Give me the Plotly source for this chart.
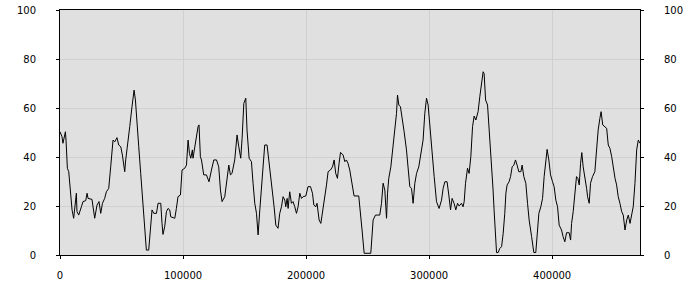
import plotly.graph_objects as go

x_vals = [0, 1600, 2400, 3300, 4400, 4900, 6000, 7100, 8100, 9800, 11100, 12500, 13300, 13800,
          15200, 17400, 18700, 20900, 22000, 22800, 26000, 28200, 30100, 31700, 33100, 34500,
          36300, 37700, 39600, 41200, 43100, 44500, 46300, 47700, 49400, 50700, 52000, 52600,
          53400, 54800, 56700, 58500, 60200, 61300, 62100, 64000, 65600, 67500, 68900, 70200,
          72100, 73500, 74800, 76200, 78400, 79700, 81900, 82900, 83700, 85100, 86500, 87800,
          89200, 90000, 93300, 94600, 95900, 97900, 99200, 101400, 102800, 104100, 105200,
          106300, 107600, 108100, 109500, 110900, 112200, 113000, 114100, 115000, 116800,
          119000, 121100, 123100, 125000, 127200, 129000, 130400, 131700, 133900, 135300,
          137200, 138500, 139800, 142000, 143900, 145300, 146900, 148000, 149400, 151000,
          152000, 153700, 155600, 156900, 158300, 159700, 161000, 162400, 163700, 165000,
          166400, 168300, 169700, 171100, 172700, 174000, 175400, 177200, 178600, 180000,
          181300, 182700, 183500, 184600, 185400, 186700, 188100, 189400, 190800, 192200,
          193500, 194900, 196300, 197600, 199800, 201600, 203600, 205200, 206300, 207900,
          208900, 210600, 212000, 213800, 215200, 216600, 217900, 219800, 221500, 222800,
          224100, 225500, 226800, 228000, 230100, 231500, 232800, 234100, 235500, 237400,
          239000, 242800, 244500, 245500, 247200, 252600, 254500, 256400, 259900, 261300,
          262600, 264000, 264800, 265400, 266200, 267200, 268900, 270700, 272100, 273500,
          274300, 275400, 276700, 278000, 279700, 281600, 282900, 284300, 285700, 287000,
          288400, 289800, 291600, 293300, 295100, 296500, 297900, 299200, 300600, 302400,
          304100, 306000, 308100, 310100, 311400, 312800, 314600, 316000, 317400, 318700,
          320300, 321700, 323100, 324400, 326300, 327600, 328500, 329600, 331200, 332500,
          333900, 335300, 336600, 338000, 339800, 341200, 342600, 343900, 344700, 345900,
          347500, 348800, 350700, 352000, 352800, 353700, 354800, 356100, 357500, 358900,
          360200, 361500, 362400, 363400, 365000, 366200, 367500, 368900, 370200, 371500,
          372900, 374600, 375600, 377000, 378600, 380000, 381300, 383300, 385100, 386700,
          387800, 389200, 390800, 392200, 393500, 394600, 395900, 397300, 398700, 400300,
          401600, 403000, 404400, 405700, 407600, 408900, 410300, 411700, 413800, 415000,
          415800, 417100, 418500, 419800, 420900, 422000, 423100, 424100, 425200, 426600,
          428000, 428800, 430100, 431200, 432800, 434700, 436100, 437400, 438800, 439800,
          441100, 442400, 444300, 445600, 447000, 448400, 449700, 451100, 452400, 453700,
          455100, 456500, 457800, 459200, 460600, 461900, 463300, 464600, 465900, 467300,
          468700, 470000, 471400]

y_vals = [50.3, 48.3, 45.6, 47.6, 50.3, 46.9, 35.4, 34.0, 27.9, 18.4, 15.0, 21.8, 25.2, 17.7,
          16.3, 19.7, 21.8, 22.2, 25.2, 23.1, 22.7, 15.0, 20.4, 21.8, 17.0, 21.1,
          23.1, 25.8, 27.2, 36.0, 46.9, 46.2, 47.9, 44.9, 44.2, 40.8, 36.0, 34.0,
          38.8, 45.6, 52.4, 60.5, 67.3, 63.3, 56.4, 44.2, 33.3, 21.1, 10.2, 2.0,
          2.0, 12.9, 18.4, 17.0, 17.0, 21.1, 21.1, 12.9, 8.4, 11.6, 17.7, 19.0,
          18.4, 15.6, 15.0, 19.0, 23.8, 24.5, 34.7, 35.4, 36.7, 46.9, 41.5,
          39.5, 42.9, 39.5, 44.2, 48.3, 52.4, 53.1, 40.1, 38.8, 32.7,
          32.7, 29.9, 34.7, 38.8, 38.8, 36.0, 26.5, 21.8, 23.8, 28.6,
          36.7, 32.7, 33.3, 38.8, 49.0, 44.2, 39.5, 47.6, 61.9, 64.0,
          51.0, 39.5, 38.1, 29.3, 21.1, 17.0, 8.2, 18.4, 27.9, 38.8,
          44.9, 44.9, 38.8, 34.7, 25.2, 19.7, 12.2, 10.9, 17.0, 19.7,
          23.8, 22.4, 19.7, 23.1, 19.0, 25.8, 21.1, 21.8, 19.7, 17.0,
          19.7, 25.2, 23.1, 23.8, 24.1, 27.9, 27.9, 25.2, 20.4, 19.7,
          21.1, 14.3, 12.9, 18.4, 23.8, 28.6, 34.0, 34.7, 36.0, 38.8,
          33.3, 31.3, 37.4, 41.9, 40.8, 38.1, 38.8, 37.4, 34.7, 27.9,
          24.1, 24.1, 16.3, 10.2, 0.7, 0.7, 14.3, 16.3, 16.3, 21.1,
          29.3, 26.5, 19.7, 15.0, 25.2, 31.3, 36.0, 44.2, 52.4, 57.8,
          65.3, 61.2, 60.5, 55.1, 50.3, 42.9, 36.0, 27.9, 27.2, 21.1,
          29.3, 33.3, 36.0, 41.5, 46.9, 57.8, 64.0, 61.2, 51.7, 40.1,
          32.0, 21.8, 19.0, 22.4, 27.2, 29.9, 29.9, 24.5, 18.4, 23.1,
          21.1, 18.4, 21.1, 20.0, 21.1, 19.7, 21.8, 29.3, 35.4, 33.3,
          40.1, 52.4, 56.7, 55.1, 58.5, 64.6, 71.4, 74.8, 74.1, 63.3,
          61.2, 52.0, 37.4, 26.5, 18.4, 8.8, 1.0, 1.0, 2.7, 3.4,
          8.8, 17.0, 25.2, 28.6, 29.9, 32.0, 36.0, 36.7, 38.8, 36.7,
          34.0, 34.0, 36.7, 32.0, 29.3, 21.1, 14.3, 7.5, 1.0, 1.0,
          8.8, 17.0, 19.7, 23.1, 32.0, 38.8, 43.1, 38.8, 32.7, 29.9,
          27.9, 22.4, 19.7, 12.2, 10.2, 7.5, 5.4, 9.1, 9.1, 6.1,
          12.9, 17.7, 25.2, 32.0, 31.3, 28.6, 37.4, 41.8, 36.0, 32.0,
          27.2, 23.8, 21.1, 29.3, 32.0, 34.0, 44.2, 51.0, 55.8, 58.5,
          53.1, 52.4, 51.7, 44.9, 43.5, 40.1, 34.7, 31.3, 28.6, 23.8,
          21.1, 17.7, 16.3, 10.2, 14.3, 16.3, 12.9, 17.0, 19.7, 29.3,
          42.9, 46.9, 45.6]

x_ticks = [0, 100000, 200000, 300000, 400000]
y_ticks = [0, 20, 40, 60, 80, 100]

font = dict(family="DejaVu Sans", size=10, color="black")

fig = go.Figure()
fig.add_trace(go.Scatter(x=x_vals, y=y_vals, mode="lines",
                         line=dict(color="black", width=1), showlegend=False,
                         hoverinfo="skip"))
# same series mirrored on the right-hand axis (drawn invisibly so the axis is rendered)
fig.add_trace(go.Scatter(x=x_vals, y=y_vals, mode="lines", yaxis="y2",
                         line=dict(color="rgba(0,0,0,0)", width=1), showlegend=False,
                         hoverinfo="skip"))

fig.update_layout(
    width=700, height=300,
    margin=dict(l=60, r=60, t=10, b=45, autoexpand=False),
    paper_bgcolor="white",
    plot_bgcolor="#e0e0e0",
    font=font,
    showlegend=False,
    xaxis=dict(range=[0, 471400], tickvals=x_ticks, ticktext=[str(v) for v in x_ticks],
               showgrid=True, gridcolor="#d0d0d0", gridwidth=1, zeroline=False,
               showline=True, linecolor="black", linewidth=1, mirror=True,
               ticks="outside", ticklen=3, tickcolor="black", tickfont=font,
               automargin=False, ticklabelstandoff=8),
    yaxis=dict(range=[0, 100], tickvals=y_ticks,
               showgrid=True, gridcolor="#d0d0d0", gridwidth=1, zeroline=False,
               showline=True, linecolor="black", linewidth=1, mirror=True,
               ticks="outside", ticklen=3, tickcolor="black", tickfont=font,
               ticklabelstandoff=18, automargin=False),
    yaxis2=dict(range=[0, 100], tickvals=y_ticks, overlaying="y", side="right",
                showgrid=False, zeroline=False, showline=False,
                ticks="outside", ticklen=3, tickcolor="black", tickfont=font,
                ticklabelstandoff=18, automargin=False),
)

fig.write_html("out.html")
